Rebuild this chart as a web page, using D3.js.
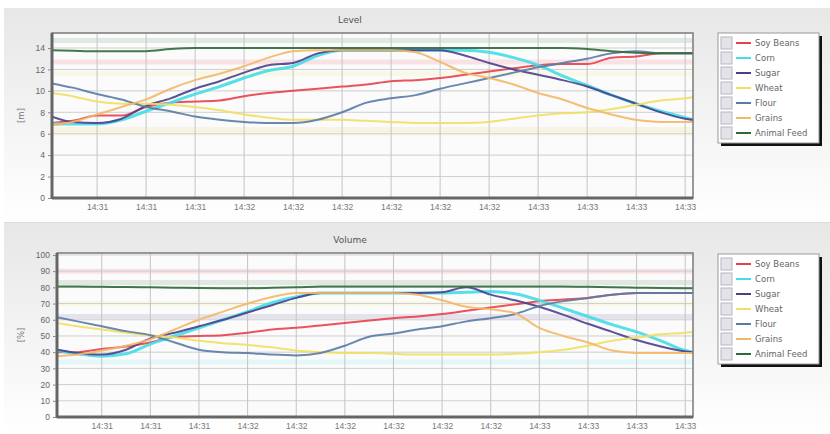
<!DOCTYPE html>
<html><head><meta charset="utf-8">
<script src="https://cdn.jsdelivr.net/npm/d3@7/dist/d3.min.js"></script>
<style>body{margin:0;background:#fff;}svg{display:block;font-family:"DejaVu Sans",Verdana,sans-serif;}</style>
</head><body>
<svg id="c" width="830" height="434"></svg>
<script>
// ---- data ----
const seriesNames = ["Soy Beans","Corn","Sugar","Wheat","Flour","Grains","Animal Feed"];
const seriesColors = ["#e8404c","#45dde6","#4b3f8c","#f0e060","#5a7ba6","#f3b766","#2f6a3a"];
// seconds after 14:31:00
const times = [20.8,25,30,35,40,45,50,55,60,65,70,75,80,85,90,95,100,105,110,115,120,125,130,135,140,145,150,151.6];
const tickLabelsTop = ["14:31","14:31","14:31","14:32","14:32","14:32","14:32","14:32","14:32","14:33","14:33","14:33","14:33"];

const soyLevel   = [7.0,7.2,7.7,7.7,8.5,8.9,9.0,9.1,9.5,9.8,10.0,10.2,10.4,10.6,10.9,11.0,11.2,11.5,11.8,12.1,12.4,12.5,12.5,13.1,13.2,13.5,13.5,13.5];
const cornLevel  = [6.9,6.9,6.9,7.3,8.1,8.9,9.7,10.4,11.2,11.9,12.3,13.3,13.8,13.8,13.8,13.8,13.8,13.8,13.6,13.1,12.4,11.4,10.5,9.6,8.8,8.1,7.5,7.3];
const sugarLevel = [7.6,7.1,7.0,7.4,8.6,9.3,10.2,10.9,11.7,12.4,12.6,13.5,13.8,13.8,13.8,13.8,13.8,13.3,12.6,12.0,11.5,11.0,10.4,9.6,8.8,8.0,7.4,7.3];
const wheatLevel = [9.8,9.5,9.0,8.8,8.8,8.7,8.5,8.2,7.8,7.5,7.3,7.3,7.3,7.2,7.1,7.0,7.0,7.0,7.1,7.4,7.7,7.9,8.0,8.3,8.7,9.1,9.3,9.4];
const flourLevel = [10.7,10.3,9.7,9.2,8.5,8.1,7.6,7.3,7.1,7.0,7.0,7.3,8.0,8.9,9.3,9.6,10.2,10.7,11.2,11.7,12.2,12.6,13.0,13.5,13.7,13.5,13.5,13.5];
const grainsLevel= [6.8,7.1,7.8,8.5,9.2,10.2,11.0,11.6,12.3,13.1,13.7,13.8,13.8,13.8,13.8,13.6,12.7,11.7,11.2,10.6,9.8,9.2,8.4,7.8,7.3,7.1,7.1,7.1];
const feedLevel  = [13.8,13.75,13.7,13.7,13.7,13.9,14.0,14.0,14.0,14.0,14.0,14.0,14.0,14.0,14.0,14.0,14.0,14.0,14.0,14.0,14.0,14.0,13.9,13.7,13.55,13.5,13.5,13.5];

const soyVol   = [40,40,42,43.5,46,49.5,50,50.5,52,54,55,56.5,58,59.5,61,62,63.5,65.5,67.5,69.5,71.5,72.5,73.5,75.5,76.5,76.5,76.5,76.5];
const cornVol  = [41,39,37.5,39,45,50,55,60,65,70.5,74,76.5,76.5,76.5,76.5,76.5,76.5,77,77.5,76,72,67,62,57,52.5,47,41,40];
const sugarVol = [41.5,39.5,38.5,41.5,48.5,52,56,60,64.5,69,73.5,76.5,76.5,76.5,76.5,76.5,77,80,75.5,72,68,63,57.5,52.5,47.5,43.5,40.5,40];
const wheatVol = [58,56,54,52,50.5,49,47,45.5,44.5,43,41,40,39.5,39.5,39,38.5,38.5,38.5,38.5,39,40,41.5,44,47,49,51,52,52.5];
const flourVol = [61.5,59,56,53,50.5,46,41.5,40,39.5,38.5,38,39.5,44,49.5,51.5,54,56,59,61,63.5,68.5,71.5,73.5,75.5,76.5,76.5,76.5,76.5];
const grainsVol= [37.5,38.5,41,44,48,54,60,65,70,74,76.5,76.5,76.5,76.5,76.5,75.5,72,68,66.5,64,55,50,46,41,39.5,39.5,39.5,39.5];
const feedVol  = [80.5,80.5,80.3,80.2,80,79.8,79.6,79.5,79.5,79.7,80,80.5,80.6,80.6,80.6,80.6,80.6,80.6,80.6,80.5,80.5,80.5,80.3,80,79.8,79.6,79.5,79.5];

const levelTicks = [0,2,4,6,8,10,12,14];
const volumeTicks = [0,10,20,30,40,50,60,70,80,90,100];
// faint limit bands (value, series index)
const levelLimits = [[14.7,6],[12.7,0],[11.6,3],[6.4,5],[6.0,3]];
const volumeLimits = [[90,0],[83,6],[70,3],[62,2],[34,1]];

// ---- drawing ----
const svg = d3.select("#c");
const base = new Date(2020,0,1,14,31,0);
const toDate = s => new Date(base.getTime() + s*1000);

const defs = svg.append("defs");
const g1 = defs.append("linearGradient").attr("id","pg").attr("x1",0).attr("y1",0).attr("x2",0).attr("y2",1);
g1.append("stop").attr("offset","0%").attr("stop-color","#e7e7e7");
g1.append("stop").attr("offset","100%").attr("stop-color","#ffffff");

function panel(cfg){
  const {py0, py1, left, right, top, bottom, ymax, ticks, title, unit, data, limits, id, legendTop} = cfg;
  svg.append("rect").attr("x",4).attr("y",py0).attr("width",826).attr("height",py1-py0).attr("fill","url(#pg)");
  const x = d3.scaleTime().domain([toDate(times[0]), toDate(times[times.length-1])]).range([left,right]);
  const y = d3.scaleLinear().domain([0,ymax]).range([bottom,top]);
  svg.append("rect").attr("x",left).attr("y",top).attr("width",right-left).attr("height",bottom-top).attr("fill","#fbfbfb");
  const cp = defs.append("clipPath").attr("id","clip"+id);
  cp.append("rect").attr("x",left).attr("y",top).attr("width",right-left).attr("height",bottom-top);
  const pg = svg.append("g").attr("clip-path","url(#clip"+id+")");
  // limit bands
  pg.selectAll(".lim").data(limits).join("line")
    .attr("x1",left).attr("x2",right).attr("y1",d=>y(d[0])).attr("y2",d=>y(d[0]))
    .attr("stroke",d=>seriesColors[d[1]]).attr("stroke-opacity",0.13).attr("stroke-width",5);
  // grid
  const xt = x.ticks(d3.timeSecond.every(10)).filter(d=>d>=toDate(30) && d<=toDate(150));
  pg.selectAll(".hg").data(ticks).join("line")
    .attr("x1",left).attr("x2",right).attr("y1",d=>y(d)).attr("y2",d=>y(d))
    .attr("stroke","#cfcfcf").attr("stroke-width",1);
  pg.selectAll(".vg").data(xt).join("line")
    .attr("x1",d=>x(d)).attr("x2",d=>x(d)).attr("y1",top).attr("y2",bottom)
    .attr("stroke","#c4c4c4").attr("stroke-width",1);
  // lines
  const line = d3.line().x((d,i)=>x(toDate(times[i]))).y(d=>y(d)).curve(d3.curveMonotoneX);
  data.forEach((arr,k)=>{
    pg.append("path").attr("d",line(arr)).attr("fill","none")
      .attr("stroke",seriesColors[k]).attr("stroke-width", k===1?3:2).attr("stroke-opacity",0.9);
  });
  // frame
  svg.append("rect").attr("x",left).attr("y",top).attr("width",right-left).attr("height",bottom-top)
    .attr("fill","none").attr("stroke","#7a7a7a").attr("stroke-width",1.5);
  svg.append("line").attr("x1",left).attr("x2",left).attr("y1",top).attr("y2",bottom+1).attr("stroke","#666").attr("stroke-width",3);
  svg.append("line").attr("x1",left).attr("x2",right).attr("y1",bottom).attr("y2",bottom).attr("stroke","#666").attr("stroke-width",3);
  // axes
  const ya = d3.axisLeft(y).tickValues(ticks).tickSize(3).tickPadding(3);
  const yg = svg.append("g").attr("transform",`translate(${left-1},0)`).call(ya);
  yg.select(".domain").remove();
  yg.selectAll("line").attr("stroke","#888");
  yg.selectAll("text").attr("fill","#666").attr("font-size","8.5px");
  const xa = d3.axisBottom(x).tickValues(xt).tickSize(0).tickPadding(6).tickFormat(d3.timeFormat("%H:%M"));
  const xg = svg.append("g").attr("transform",`translate(0,${bottom})`).call(xa);
  xg.select(".domain").remove();
  xg.selectAll("text").attr("fill","#777").attr("font-size","8.5px");
  // title & unit
  svg.append("text").attr("x",350).attr("y",top-10).attr("text-anchor","middle").attr("font-size","9px").attr("fill","#555").text(title);
  svg.append("text").attr("transform",`translate(24,${(top+bottom)/2}) rotate(-90)`).attr("text-anchor","middle")
    .attr("font-size","8.5px").attr("fill","#777").text(unit);
  // legend
  const lx=718, ly=legendTop, lw=101, lh=110;
  svg.append("rect").attr("x",lx+3).attr("y",ly+3).attr("width",lw).attr("height",lh).attr("fill","#111");
  svg.append("rect").attr("x",lx).attr("y",ly).attr("width",lw).attr("height",lh).attr("fill","#fff").attr("stroke","#999");
  const lg = svg.append("g");
  seriesNames.forEach((n,i)=>{
    const cy = ly+10+i*15;
    lg.append("rect").attr("x",lx+3).attr("y",cy-6).attr("width",11).attr("height",12).attr("fill","#e3e4ea").attr("stroke","#b8b8c0");
    lg.append("line").attr("x1",lx+18).attr("x2",lx+33).attr("y1",cy).attr("y2",cy).attr("stroke",seriesColors[i]).attr("stroke-width",2);
    lg.append("text").attr("x",lx+37).attr("y",cy+3).attr("font-size","8.5px").attr("fill","#666").text(n);
  });
}

panel({id:1, py0:8, py1:222, left:52, right:693, top:33, bottom:198, ymax:15.4, ticks:levelTicks, title:"Level", unit:"[m]",
  data:[soyLevel,cornLevel,sugarLevel,wheatLevel,flourLevel,grainsLevel,feedLevel], limits:levelLimits, legendTop:33});
svg.append("line").attr("x1",4).attr("x2",830).attr("y1",222.5).attr("y2",222.5).attr("stroke","#dcdcdc");
panel({id:2, py0:223, py1:434, left:57, right:693, top:253, bottom:417, ymax:101.2, ticks:volumeTicks, title:"Volume", unit:"[%]",
  data:[soyVol,cornVol,sugarVol,wheatVol,flourVol,grainsVol,feedVol], limits:volumeLimits, legendTop:254});
</script>
</body></html>
